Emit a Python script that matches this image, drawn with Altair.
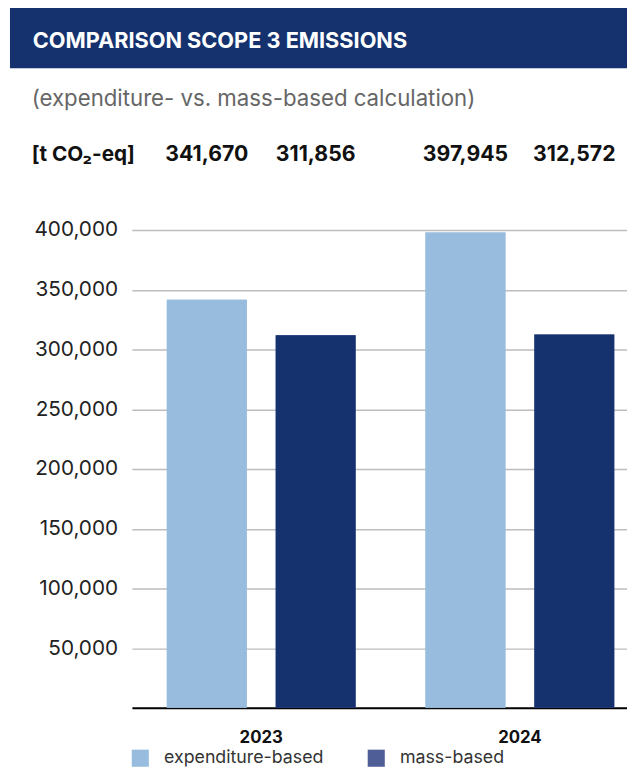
import altair as alt
import pandas as pd

years = ["2023", "2023", "2024", "2024"]
methods = ["expenditure-based", "mass-based", "expenditure-based", "mass-based"]
values = [341670, 311856, 397945, 312572]
method_order = ["expenditure-based", "mass-based"]
bar_colors = ["#97BCDD", "#15326F"]
legend_colors = ["#97BCDD", "#505E98"]
y_ticks = [50000, 100000, 150000, 200000, 250000, 300000, 350000, 400000]

title = "COMPARISON SCOPE 3 EMISSIONS"
subtitle = "(expenditure- vs. mass-based calculation)"
unit = "[t CO₂-eq]"

df = pd.DataFrame({"year": years, "method": methods, "value": values})

FONT = "Inter"
W, H = 494, 484

xscale = alt.Scale(range=[-7.5, 516.5], paddingInner=0, paddingOuter=0)
xoff = alt.XOffset("method:N", sort=method_order,
                   scale=alt.Scale(paddingInner=0.266, paddingOuter=0.321))
yscale = alt.Scale(domain=[0, 400000], nice=False)

base = alt.Chart(df)

xaxis = alt.Axis(labelAngle=0, labelFontSize=17, labelFontWeight="bold",
                 labelColor="#111", labelPadding=22, ticks=False, grid=False,
                 domainColor="#000", domainWidth=2, labelFont=FONT)
yaxis = alt.Axis(values=y_ticks, format=",.0f", labelFontSize=21,
                 labelColor="#222", labelPadding=22, ticks=False,
                 domain=False, grid=True, gridColor="#BDBDBD",
                 gridWidth=1.5, labelFont=FONT)

X = alt.X("year:N", title=None, scale=xscale, axis=xaxis)
Y = alt.Y("value:Q", title=None, scale=yscale, axis=yaxis)

# legend carrier: same bars underneath, coloured with the legend swatch colours
legend_bars = base.mark_bar().encode(
    x=X, xOffset=xoff, y=Y,
    color=alt.Color("method:N", sort=method_order,
                    scale=alt.Scale(domain=method_order, range=legend_colors),
                    legend=alt.Legend(
                        title=None, orient="none", legendX=-8, legendY=526,
                        direction="horizontal", symbolType="square",
                        symbolSize=300, symbolStrokeWidth=0, labelFontSize=18,
                        labelColor="#333", labelFont=FONT, labelOffset=15,
                        labelLimit=400, columnPadding=44)),
)

bars = base.mark_bar().encode(
    x=X, xOffset=xoff, y=Y,
    color=alt.Color("method:N", sort=method_order,
                    scale=alt.Scale(domain=method_order, range=bar_colors),
                    legend=None),
)

value_labels = base.mark_text(fontSize=21.5, fontWeight="bold", color="#111",
                              font=FONT, baseline="middle").encode(
    x=X, xOffset=xoff,
    y=alt.value(-76),
    text=alt.Text("value:Q", format=","),
)

band = alt.Chart(pd.DataFrame({"t": [title]})).mark_rect(color="#15326F").encode(
    x=alt.value(-131), x2=alt.value(W), y=alt.value(-230), y2=alt.value(-164))

title_text = alt.Chart(pd.DataFrame({"t": [title]})).mark_text(
    align="left", baseline="middle", fontSize=22, fontWeight="bold",
    color="white", font=FONT).encode(x=alt.value(-108), y=alt.value(-191), text="t:N")

subtitle_text = alt.Chart(pd.DataFrame({"t": [subtitle]})).mark_text(
    align="left", baseline="middle", fontSize=22.5, color="#666",
    font=FONT).encode(x=alt.value(-109), y=alt.value(-133), text="t:N")

unit_text = alt.Chart(pd.DataFrame({"t": [unit]})).mark_text(
    align="left", baseline="middle", fontSize=21, fontWeight="bold",
    color="#111", font=FONT).encode(x=alt.value(-109), y=alt.value(-76), text="t:N")

chart = alt.layer(legend_bars, bars, value_labels, band, title_text,
                  subtitle_text, unit_text).resolve_scale(color="independent").properties(
    width=W, height=H,
    background="white",
    autosize=alt.AutoSizeParams(type="none"),
    padding={"left": 133, "top": 220, "right": 0, "bottom": 56},
).configure_view(strokeWidth=0, stroke="transparent")

chart.save("out.html", embed_options={"renderer": "svg", "actions": False})
